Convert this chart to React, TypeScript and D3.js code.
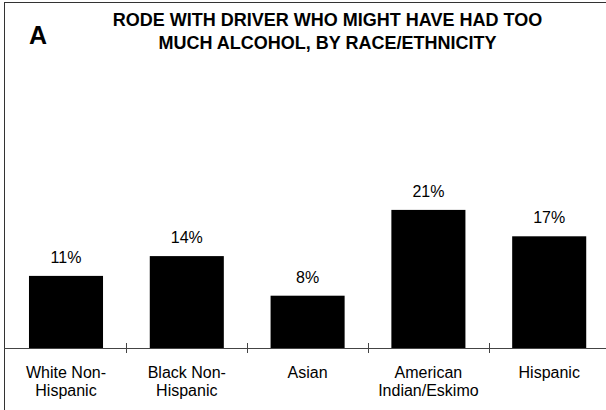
import React from "react";
import * as d3 from "d3";

const categories: string[][] = [
  ["White Non-", "Hispanic"],
  ["Black Non-", "Hispanic"],
  ["Asian"],
  ["American", "Indian/Eskimo"],
  ["Hispanic"],
];
const values: number[] = [11, 14, 8, 21, 17];
const valueLabels: string[] = ["11%", "14%", "8%", "21%", "17%"];
const titleLines: string[] = [
  "RODE WITH DRIVER WHO MIGHT HAVE HAD TOO",
  "MUCH ALCOHOL, BY RACE/ETHNICITY",
];
const panelLetter = "A";

const W = 606;
const H = 410;

export default function App() {
  const ids = categories.map((_, i) => String(i));
  const x = d3
    .scaleBand<string>()
    .domain(ids)
    .range([5.6, 609.6])
    .paddingInner(0.387)
    .paddingOuter(0.1935);
  const y = d3.scaleLinear().domain([0, 50]).range([348.5, 18.5]);
  const step = x.step();
  const font = "Arial, 'Liberation Sans', Helvetica, sans-serif";

  return (
    <div style={{ position: "absolute", left: 0, top: 0 }}>
      <svg width={W} height={H} style={{ display: "block" }}>
        <rect x={0} y={0} width={W} height={H} fill="#fff" />
        <rect x={4.5} y={2.5} width={W + 10} height={H + 10} fill="none" stroke="#333" strokeWidth={1} />
        <text x={29} y={44} fontFamily={font} fontWeight="bold" fontSize={25} fill="#000">
          {panelLetter}
        </text>
        {titleLines.map((t, i) => (
          <text
            key={i}
            x={327.5}
            y={26 + i * 23}
            textAnchor="middle"
            fontFamily={font}
            fontWeight="bold"
            fontSize={18}
            fill="#000"
          >
            {t}
          </text>
        ))}
        {values.map((v, i) => (
          <g key={i}>
            <rect
              x={x(ids[i])!}
              y={y(v)}
              width={x.bandwidth()}
              height={y(0) - y(v)}
              fill="#000"
            />
            <text
              x={x(ids[i])! + x.bandwidth() / 2}
              y={y(v) - 13}
              textAnchor="middle"
              fontFamily={font}
              fontSize={16}
              fill="#000"
            >
              {valueLabels[i]}
            </text>
          </g>
        ))}
        <line x1={4} x2={W} y1={348.5} y2={348.5} stroke="#444" strokeWidth={1} />
        {ids.slice(1).map((id) => {
          const tx = Math.round(x(id)! - (step * 0.387) / 2) + 0.5;
          return <line key={id} x1={tx} x2={tx} y1={343} y2={353} stroke="#444" strokeWidth={1} />;
        })}
        {categories.map((lines, i) => (
          <text
            key={i}
            x={x(ids[i])! + x.bandwidth() / 2}
            textAnchor="middle"
            fontFamily={font}
            fontSize={16}
            fill="#000"
          >
            {lines.map((l, j) => (
              <tspan key={j} x={x(ids[i])! + x.bandwidth() / 2} y={378 + j * 18}>
                {l}
              </tspan>
            ))}
          </text>
        ))}
      </svg>
    </div>
  );
}
